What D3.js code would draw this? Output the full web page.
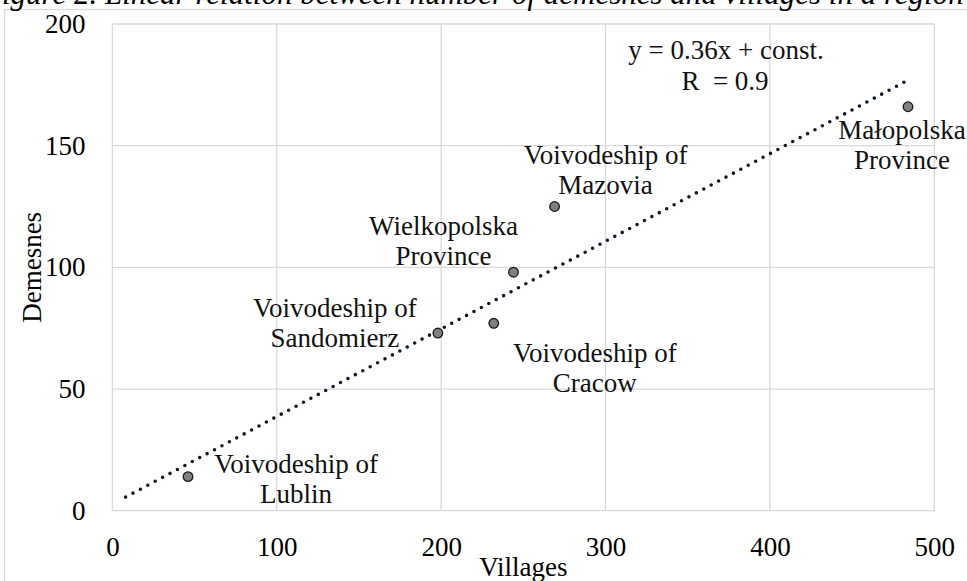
<!DOCTYPE html>
<html>
<head>
<meta charset="utf-8" />
<title>Demesnes and villages</title>
<script src="https://cdn.jsdelivr.net/npm/d3@7"></script>
<style>
  body { margin: 0; background: #fff; }
  svg { display: block; font-family: "Liberation Serif", "Times New Roman", serif; }
  .grid line { stroke: #d9d9d9; stroke-width: 1.3px; }
  .axis text { font-size: 27px; fill: #000; font-family: "Liberation Serif", "Times New Roman", serif; }
  .axis path { display: none; }
  .lbl { font-size: 27px; fill: #111; }
</style>
</head>
<body>
<svg id="chart"></svg>
<script>
// regions (point labels), villages (x) and demesnes (y)
var regions = [
  ["Voivodeship of", "Lublin"],
  ["Voivodeship of", "Sandomierz"],
  ["Voivodeship of", "Cracow"],
  ["Wielkopolska", "Province"],
  ["Voivodeship of", "Mazovia"],
  ["Małopolska", "Province"]
];
var villages = [46, 198, 232, 244, 269, 484];
var demesnes = [14, 73, 77, 98, 125, 166];

var xTicks = [0, 100, 200, 300, 400, 500];
var yTicks = [0, 50, 100, 150, 200];

// trendline as shown in the figure
var trendSlope = 0.36, trendConst = 2.7;
var trendRange = [8, 482];

// label placement relative to its point (layout only)
var labelOffsets = [[108, -4], [-103, -16], [101, 39], [-70, -37], [51, -43], [-6, 32]];

var width = 967, height = 581;
var margin = {left: 112.4, right: 967 - 934.3, top: 24, bottom: 581 - 510.7};

var svg = d3.select("#chart").attr("width", width).attr("height", height);

// outer chart border
svg.append("rect")
  .attr("x", 4.5).attr("y", 9.5)
  .attr("width", 1000).attr("height", 600)
  .attr("fill", "none").attr("stroke", "#d9d9d9").attr("stroke-width", 1.3);

// title, clipped at the top of the image
svg.append("text")
  .attr("x", -17).attr("y", 4)
  .style("font-size", "31px").style("font-style", "italic")
  .text("Figure 2. Linear relation between number of demesnes and villages in a region");

var x = d3.scaleLinear().domain([0, 500]).range([margin.left, width - margin.right]);
var y = d3.scaleLinear().domain([0, 200]).range([height - margin.bottom, margin.top]);

var grid = svg.append("g").attr("class", "grid");
grid.selectAll("line.v").data(xTicks).enter().append("line")
  .attr("class", "v")
  .attr("x1", function(d) { return x(d); }).attr("x2", function(d) { return x(d); })
  .attr("y1", y(0)).attr("y2", y(200));
grid.selectAll("line.h").data(yTicks).enter().append("line")
  .attr("class", "h")
  .attr("x1", x(0)).attr("x2", x(500))
  .attr("y1", function(d) { return y(d); }).attr("y2", function(d) { return y(d); });

svg.append("g").attr("class", "axis")
  .attr("transform", "translate(" + x(0) + ",0)")
  .call(d3.axisLeft(y).tickValues(yTicks).tickSize(0).tickPadding(27));

svg.append("g").attr("class", "axis")
  .attr("transform", "translate(0," + y(0) + ")")
  .call(d3.axisBottom(x).tickValues(xTicks).tickSize(0).tickPadding(26.5));

svg.selectAll(".axis").attr("font-family", null).attr("font-size", null);

// axis titles
svg.append("text")
  .attr("x", (x(0) + x(500)) / 2).attr("y", 576)
  .attr("text-anchor", "middle").style("font-size", "27px")
  .text("Villages");
svg.append("text")
  .attr("transform", "translate(41," + (y(0) + y(200)) / 2 + ") rotate(-90)")
  .attr("text-anchor", "middle").style("font-size", "27px")
  .text("Demesnes");

// dotted trendline
var trend = trendRange.map(function(v) { return [v, trendSlope * v + trendConst]; });
svg.append("path")
  .datum(trend)
  .attr("d", d3.line().x(function(d) { return x(d[0]); }).y(function(d) { return y(d[1]); }))
  .attr("fill", "none")
  .attr("stroke", "#0e1a2c")
  .attr("stroke-width", 3.6)
  .attr("stroke-linecap", "round")
  .attr("stroke-dasharray", "0 8.4");

// points
svg.selectAll("circle.pt").data(villages).enter().append("circle")
  .attr("class", "pt")
  .attr("cx", function(d) { return x(d); })
  .attr("cy", function(d, i) { return y(demesnes[i]); })
  .attr("r", 4.8)
  .attr("fill", "#808080")
  .attr("stroke", "#1a1a1a")
  .attr("stroke-width", 1.3);

// point labels
var lbl = svg.selectAll("text.lbl").data(regions).enter().append("text")
  .attr("class", "lbl")
  .attr("text-anchor", "middle")
  .attr("x", function(d, i) { return x(villages[i]) + labelOffsets[i][0]; })
  .attr("y", function(d, i) { return y(demesnes[i]) + labelOffsets[i][1]; });
lbl.each(function(d, i) {
  var t = d3.select(this);
  d.forEach(function(line, k) {
    t.append("tspan")
      .attr("x", x(villages[i]) + labelOffsets[i][0])
      .attr("dy", k === 0 ? 0 : 30)
      .text(line);
  });
});

// equation
var eq = svg.append("text").attr("class", "lbl").attr("text-anchor", "middle")
  .attr("x", 726).attr("y", 59.3);
eq.append("tspan").attr("x", 726).text("y = 0.36x + const.");
eq.append("tspan").attr("x", 725).attr("dy", 30.7).style("white-space", "pre").text("R  = 0.9");
</script>
</body>
</html>
